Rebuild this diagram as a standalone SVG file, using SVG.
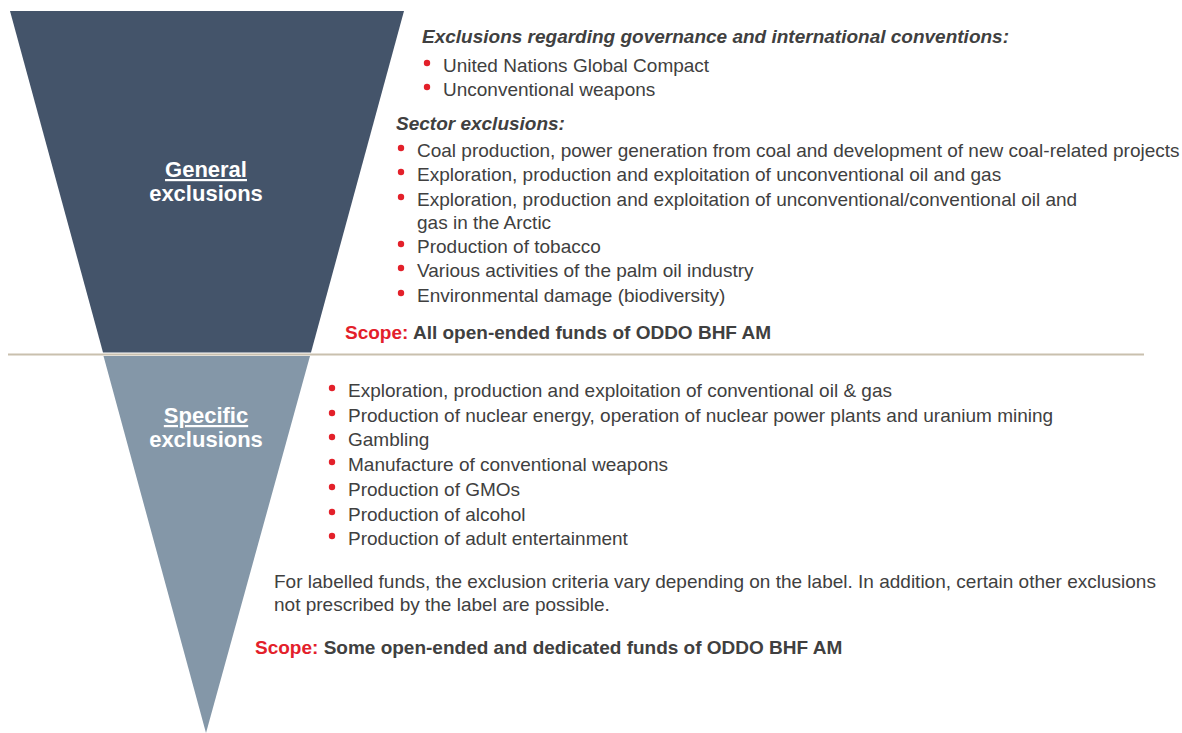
<svg xmlns="http://www.w3.org/2000/svg" width="1182" height="733" viewBox="0 0 1182 733">
<style>
  text { font-family: "Liberation Sans", Arial, sans-serif; }
  .t { font-size: 19px; fill: #404040; }
  .h { font-size: 19px; fill: #404040; font-weight: bold; font-style: italic; }
  .s { font-size: 19px; fill: #404040; font-weight: bold; }
  .r { fill: #E3202A; }
  .lbl { font-size: 22px; fill: #FFFFFF; font-weight: bold; text-anchor: middle; }
</style>
<defs>
  <circle id="b" r="3.2" fill="#E3202A"/>
</defs>
<rect width="1182" height="733" fill="#FFFFFF"/>
<g id="general">
  <polygon points="10,11 404,11 311,352.5 103,352.5" fill="#44546A"/>
  <text class="lbl" x="206" y="177" text-decoration="underline">General</text>
  <text class="lbl" x="206" y="201">exclusions</text>
</g>
<g id="specific">
  <polygon points="103.5,356 310,356 206,733" fill="#8497A8"/>
  <text class="lbl" x="206" y="423" text-decoration="underline">Specific</text>
  <text class="lbl" x="206" y="447">exclusions</text>
</g>
<g id="connectors">
  <line x1="8" y1="354.5" x2="1144" y2="354.5" stroke="#C9C0AE" stroke-width="2"/>
</g>
<g id="general-text">
  <text class="h" x="422" y="43">Exclusions regarding governance and international conventions:</text>
  <use href="#b" x="427" y="63"/><text class="t" x="443" y="72">United Nations Global Compact</text>
  <use href="#b" x="427" y="87"/><text class="t" x="443" y="96">Unconventional weapons</text>
  <text class="h" x="396" y="130">Sector exclusions:</text>
  <use href="#b" x="401" y="148"/><text class="t" x="417" y="157">Coal production, power generation from coal and development of new coal-related projects</text>
  <use href="#b" x="401" y="172"/><text class="t" x="417" y="181">Exploration, production and exploitation of unconventional oil and gas</text>
  <use href="#b" x="401" y="197"/><text class="t" x="417" y="206">Exploration, production and exploitation of unconventional/conventional oil and</text>
  <text class="t" x="417" y="229">gas in the Arctic</text>
  <use href="#b" x="401" y="244"/><text class="t" x="417" y="253">Production of tobacco</text>
  <use href="#b" x="401" y="268"/><text class="t" x="417" y="277">Various activities of the palm oil industry</text>
  <use href="#b" x="401" y="293"/><text class="t" x="417" y="302">Environmental damage (biodiversity)</text>
  <text class="s" x="345" y="339"><tspan class="r">Scope:</tspan> All open-ended funds of ODDO BHF AM</text>
</g>
<g id="specific-text">
  <use href="#b" x="332" y="388"/><text class="t" x="348" y="397">Exploration, production and exploitation of conventional oil &amp; gas</text>
  <use href="#b" x="332" y="413"/><text class="t" x="348" y="422">Production of nuclear energy, operation of nuclear power plants and uranium mining</text>
  <use href="#b" x="332" y="437"/><text class="t" x="348" y="446">Gambling</text>
  <use href="#b" x="332" y="462"/><text class="t" x="348" y="471">Manufacture of conventional weapons</text>
  <use href="#b" x="332" y="487"/><text class="t" x="348" y="496">Production of GMOs</text>
  <use href="#b" x="332" y="512"/><text class="t" x="348" y="521">Production of alcohol</text>
  <use href="#b" x="332" y="536"/><text class="t" x="348" y="545">Production of adult entertainment</text>
  <text class="t" x="274" y="588">For labelled funds, the exclusion criteria vary depending on the label. In addition, certain other exclusions</text>
  <text class="t" x="274" y="611">not prescribed by the label are possible.</text>
  <text class="s" x="255" y="654"><tspan class="r">Scope:</tspan> Some open-ended and dedicated funds of ODDO BHF AM</text>
</g>
</svg>
